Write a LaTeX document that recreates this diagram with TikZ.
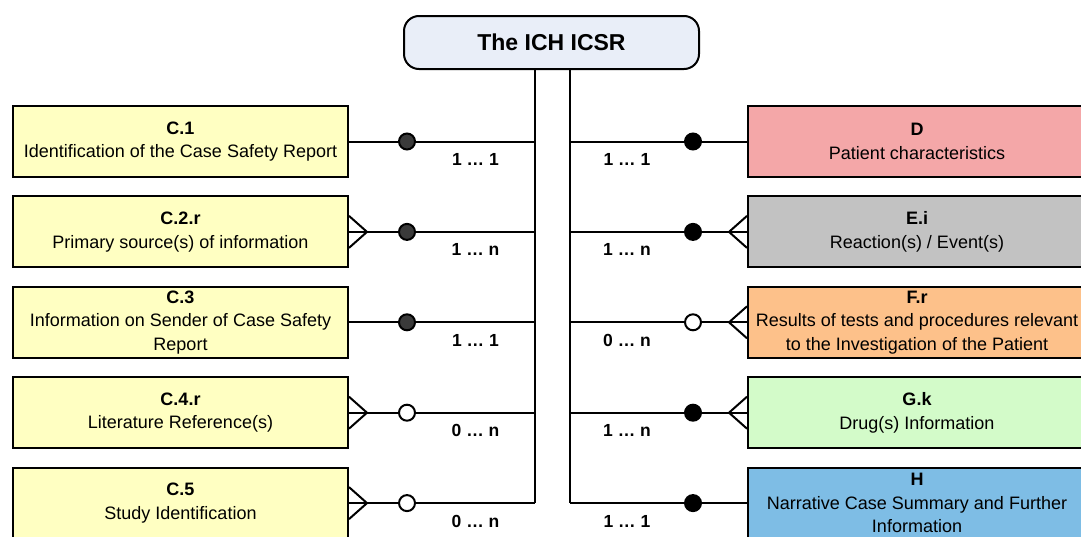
\documentclass[tikz,border=0pt]{standalone}
\usepackage{fontspec}
\setmainfont{Liberation Sans}
\usetikzlibrary{positioning}

\definecolor{titlefill}{HTML}{E9EEF8}
\definecolor{cfill}{HTML}{FFFFC2}
\definecolor{dfill}{HTML}{F4A7A8}
\definecolor{efill}{HTML}{C2C2C2}
\definecolor{ffill}{HTML}{FDC18A}
\definecolor{gfill}{HTML}{D3FBC9}
\definecolor{hfill}{HTML}{7EBDE5}
\definecolor{dotgrey}{HTML}{3A3A3A}

\tikzset{
  title/.style={draw, rounded corners=15pt, fill=titlefill, minimum width=295pt,
    minimum height=53pt, font=\fontsize{23}{27}\selectfont\bfseries},
  entity/.style={draw, minimum height=71pt, align=center, inner sep=2pt,
    font=\fontsize{18}{23.5}\selectfont},
  leftbox/.style={entity, fill=cfill, minimum width=335pt},
  rightbox/.style={entity, minimum width=338pt},
  dot/.style={draw, circle, minimum size=16pt, inner sep=0pt, fill=#1},
  dot/.default=black,
  card/.style={below=11pt, inner sep=0pt, font=\fontsize{17.5}{19}\selectfont\bfseries}
}

\begin{document}
\begin{tikzpicture}[x=1pt, y=1pt, line width=2pt]
  \useasboundingbox (0,0) rectangle (1081,-536);
  \node[title] (icsr) at (551.5,-42.5) {The ICH ICSR};

  % left side
  \node[leftbox] (c1) at (180.5,-141.5) {\textbf{C.1}\\Identification of the Case Safety Report};
  \node[leftbox, below=17.4pt of c1] (c2) {\textbf{C.2.r}\\Primary source(s) of information};
  \node[leftbox, below=17.4pt of c2] (c3) {\textbf{C.3}\\Information on Sender of Case Safety\\Report};
  \node[leftbox, below=17.4pt of c3] (c4) {\textbf{C.4.r}\\Literature Reference(s)};
  \node[leftbox, below=17.4pt of c4] (c5) {\textbf{C.5}\\Study Identification};

  % right side
  \node[rightbox, fill=dfill] (d) at (917,-141.5) {\textbf{D}\\Patient characteristics};
  \node[rightbox, fill=efill, below=17.4pt of d] (e) {\textbf{E.i}\\Reaction(s) / Event(s)};
  \node[rightbox, fill=ffill, below=17.4pt of e] (f) {\textbf{F.r}\\Results of tests and procedures relevant\\to the Investigation of the Patient};
  \node[rightbox, fill=gfill, below=17.4pt of f] (g) {\textbf{G.k}\\Drug(s) Information};
  \node[rightbox, fill=hfill, below=17.4pt of g] (h) {\textbf{H}\\Narrative Case Summary and Further\\Information};

  % trunks
  \coordinate (lx) at (407,0);
  \coordinate (rx) at (693,0);
  \coordinate (lt) at (535,-503);
  \coordinate (rt) at (570,-503);
  \draw (icsr.south -| lt) -- (c5 -| lt);
  \draw (icsr.south -| rt) -- (h -| rt);

  % left connectors
  \node[dot=dotgrey] (k1) at (c1 -| lx) {};
  \node[dot=dotgrey] (k2) at (c2 -| lx) {};
  \node[dot=dotgrey] (k3) at (c3 -| lx) {};
  \node[dot=white] (k4) at (c4 -| lx) {};
  \node[dot=white] (k5) at (c5 -| lx) {};
  \draw (c1.east) -- (k1) -- node[card] {1 … 1} (k1 -| lt);
  \draw (c2.east) -- (k2) -- node[card] {1 … n} (k2 -| lt);
  \draw (c3.east) -- (k3) -- node[card] {1 … 1} (k3 -| lt);
  \draw (c4.east) -- (k4) -- node[card] {0 … n} (k4 -| lt);
  \draw (c5.east) -- (k5) -- node[card] {0 … n} (k5 -| lt);

  % right connectors
  \node[dot] (m1) at (d -| rx) {};
  \node[dot] (m2) at (e -| rx) {};
  \node[dot=white] (m3) at (f -| rx) {};
  \node[dot] (m4) at (g -| rx) {};
  \node[dot] (m5) at (h -| rx) {};
  \draw (m1 -| rt) -- node[card] {1 … 1} (m1) -- (d.west);
  \draw (m2 -| rt) -- node[card] {1 … n} (m2) -- (e.west);
  \draw (m3 -| rt) -- node[card] {0 … n} (m3) -- (f.west);
  \draw (m4 -| rt) -- node[card] {1 … n} (m4) -- (g.west);
  \draw (m5 -| rt) -- node[card] {1 … 1} (m5) -- (h.west);

  % crow's feet
  \foreach \e in {c2,c4,c5}
    \draw ([yshift=16pt]\e.east) -- ([xshift=18pt]\e.east) -- ([yshift=-16pt]\e.east);
  \foreach \e in {e,f,g}
    \draw ([yshift=16pt]\e.west) -- ([xshift=-18pt]\e.west) -- ([yshift=-16pt]\e.west);
\end{tikzpicture}
\end{document}
